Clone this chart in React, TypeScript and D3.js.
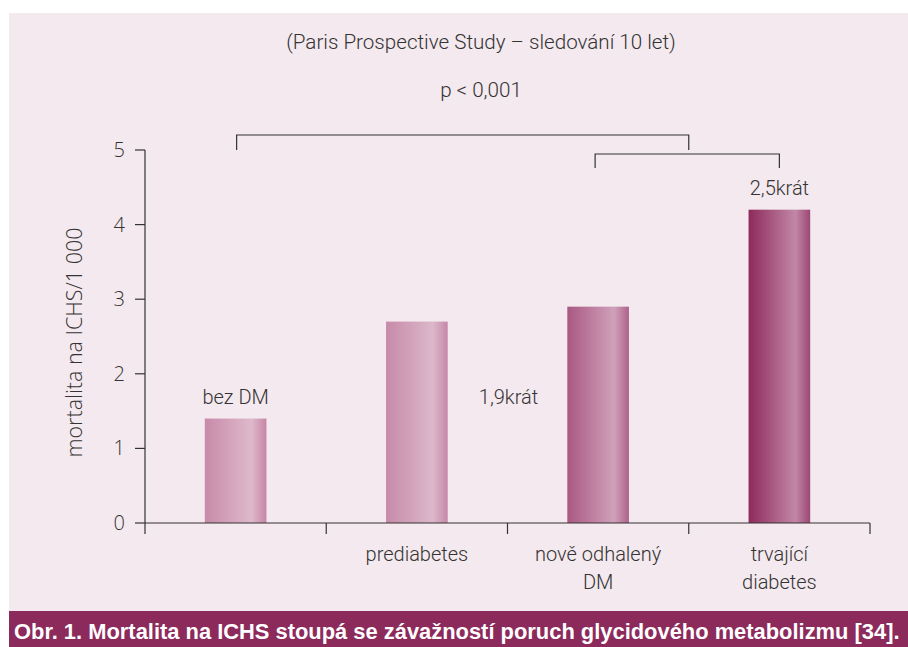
import React, { useEffect } from "react";
import * as d3 from "d3";

// values
const categories = ["bez DM", "prediabetes", "nově odhalený DM", "trvající diabetes"];
const mortality = [1.4, 2.7, 2.9, 4.2];
const yTicks = [0, 1, 2, 3, 4, 5];
const categoryLabels = [[], ["prediabetes"], ["nově odhalený", "DM"], ["trvající", "diabetes"]];
const barLabels = ["bez DM", "", "", "2,5krát"];
// gradient stops per bar: left, highlight, right edge
const barColors = [
	["#c88aa9", "#deb9cb", "#c685a5"],
	["#c68aa8", "#dcb8ca", "#c687a7"],
	["#a95883", "#d0a1ba", "#ad628a"],
	["#8d2a5c", "#c287a6", "#9c4675"],
];

const W = 908;
const H = 647;
const margin = { left: 145, right: 40, top: 150, bottom: 124 };

const textFont = "Roboto, 'Liberation Sans', Arial, sans-serif";
const wideFont = "'Open Sans', 'DejaVu Sans', Arial, sans-serif";

export default function App() {
	useEffect(() => {
		document.body.style.margin = "0";
	}, []);

	const x = d3
		.scaleBand()
		.domain(categories)
		.range([margin.left, W - margin.right + 2])
		.paddingInner(0.66)
		.paddingOuter(0.33);
	const step = x.step();
	const y = d3.scaleLinear().domain([0, 5]).range([H - margin.bottom, margin.top]);

	const cx = (i) => x(categories[i]) + x.bandwidth() / 2;
	const axisEnd = margin.left + step * categories.length;

	// bracket helper: left x, right x, top y, leg bottom y
	const bracket = (x1, x2, top, bottom) => `M${x1},${bottom}V${top}H${x2}V${bottom}`;

	return (
		<svg width={W} height={H} style={{ display: "block" }}>
			<defs>
				{barColors.map((c, i) => (
					<linearGradient key={i} id={`bar${i}`} x1="0" x2="1" y1="0" y2="0">
						<stop offset="0" stopColor={c[0]} />
						<stop offset="0.76" stopColor={c[1]} />
						<stop offset="1" stopColor={c[2]} />
					</linearGradient>
				))}
			</defs>
			<rect x={9} y={13} width={W - 9} height={598} fill="#f4e9ee" />
			<rect x={9} y={611} width={W - 9} height={H - 611} fill="#8c2a5c" />
			<text x={14} y={639} fill="#fff" fontFamily="Arial, 'Liberation Sans', sans-serif" fontWeight="bold" fontSize={21.9}>
				Obr. 1. Mortalita na ICHS stoupá se závažností poruch glycidového metabolizmu [34].
			</text>

			<g fill="#333" fontFamily={textFont} fontWeight={300} fontSize={20.6}>
				<text x={481} y={49} textAnchor="middle">(Paris Prospective Study – sledování 10 let)</text>
				<text x={481} y={97} textAnchor="middle">p &lt; 0,001</text>
			</g>

			{mortality.map((v, i) => (
				<rect
					key={i}
					x={x(categories[i])}
					y={y(v)}
					width={x.bandwidth()}
					height={y(0) - y(v)}
					fill={`url(#bar${i})`}
				/>
			))}

			{/* axes */}
			<g stroke="#333" strokeWidth={1.2} fill="none">
				<path d={`M${margin.left},${y(5)}V${y(0) + 11}`} />
				<path d={`M${margin.left},${y(0)}H${axisEnd}`} />
				{yTicks.map((t) => (
					<path key={t} d={`M${margin.left - 10},${y(t)}H${margin.left}`} />
				))}
				{d3.range(1, categories.length + 1).map((k) => (
					<path key={k} d={`M${margin.left + step * k},${y(0)}V${y(0) + 11}`} />
				))}
				<path d={bracket(cx(0) + 1, margin.left + step * 3, 135, 150)} />
				<path d={bracket(cx(2) - 3, cx(3), 154, 168)} />
			</g>

			<g fill="#333" fontFamily={wideFont} fontWeight={300} fontSize={20}>
				{yTicks.map((t) => (
					<text key={t} x={margin.left - 20} y={y(t)} dy="0.35em" textAnchor="end">
						{t}
					</text>
				))}
				<text fontSize={21.5} transform={`translate(82,${(y(0) + y(5)) / 2 + 6}) rotate(-90)`} textAnchor="middle">
					mortalita na ICHS/1 000
				</text>
			</g>

			<g fill="#333" fontFamily={textFont} fontWeight={300} fontSize={20}>
				{barLabels.map((l, i) =>
					l ? (
						<text key={i} x={cx(i)} y={y(mortality[i]) - 15} textAnchor="middle">
							{l}
						</text>
					) : null
				)}
				<text x={(cx(1) + cx(2)) / 2 + 1} y={y(mortality[0]) - 15} textAnchor="middle">
					1,9krát
				</text>
				{categoryLabels.map((lines, i) =>
					lines.map((l, j) => (
						<text key={`${i}-${j}`} x={cx(i)} y={y(0) + 38 + j * 28} textAnchor="middle">
							{l}
						</text>
					))
				)}
			</g>
		</svg>
	);
}
